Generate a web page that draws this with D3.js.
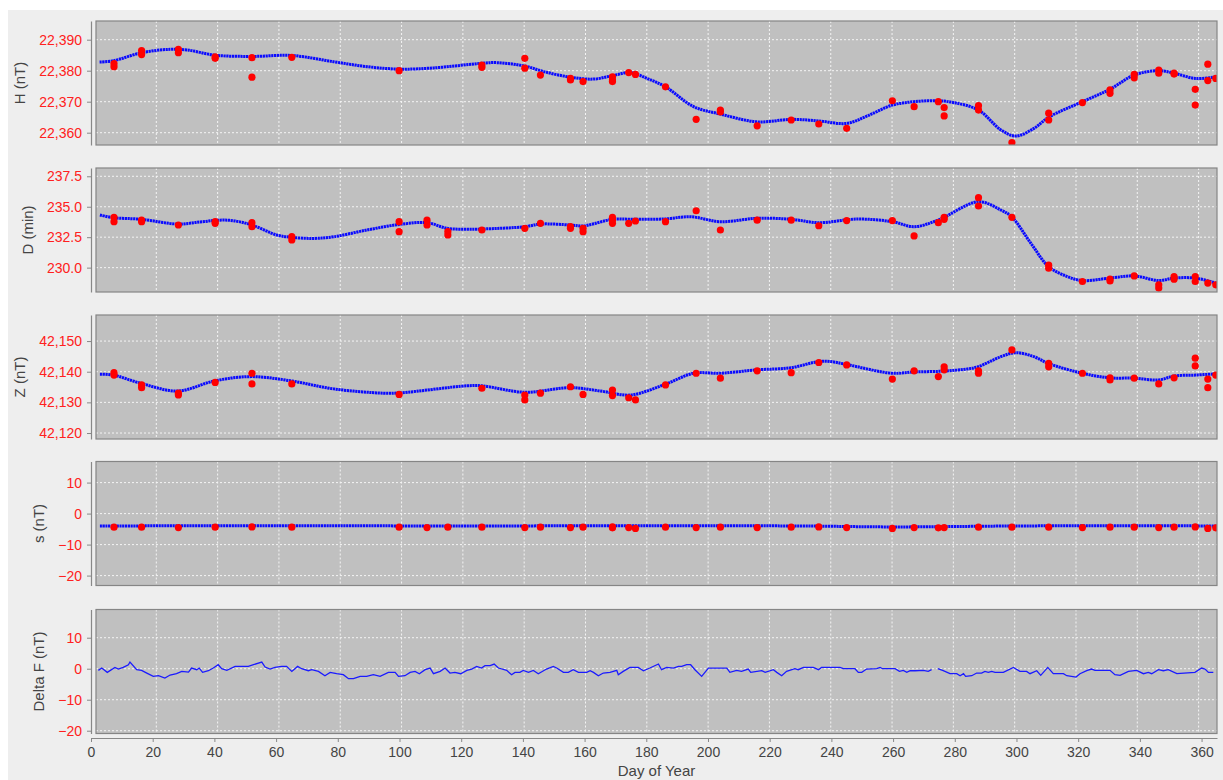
<!DOCTYPE html>
<html><head><meta charset="utf-8">
<script src="https://cdn.jsdelivr.net/npm/d3@7"></script>
<style>body{margin:0;background:#fff}svg{display:block}text{font-family:"Liberation Sans",Arial,sans-serif}</style>
</head><body><svg id="c" width="1223" height="780"></svg>
<script>
// ---------- DATA ----------
const dayTicks = [0,20,40,60,80,100,120,140,160,180,200,220,240,260,280,300,320,340,360];
const hTicks = [22360,22370,22380,22390];
const dTicks = [230.0,232.5,235.0,237.5];
const zTicks = [42120,42130,42140,42150];
const sTicks = [-20,-10,0,10];
const dfTicks = [-20,-10,0,10];

// H observations
const hObsDays = [6.2,6.2,15.2,15.2,27.2,27.2,39.2,39.2,51.2,51.2,64.2,99.2,126.2,126.2,140.2,140.2,145.3,155.1,155.1,159.2,168.8,168.8,168.8,174.1,176.3,186.1,196.1,204,204,216,227.1,236.1,245.2,260.1,267.2,275.1,277,277,288.2,288.2,299.1,311.1,311.1,322.1,331.1,331.1,339,339,347,347,352,352,358.9,358.9,363,363,365.6];
const hObsVals = [22382.3,22381.3,22386.5,22385.2,22386.9,22385.8,22384.5,22384.0,22384.2,22377.9,22384.3,22380.0,22381.8,22381.1,22384.0,22380.8,22378.6,22377.5,22377.0,22376.5,22378.0,22377.0,22376.5,22379.4,22378.8,22374.8,22364.3,22367.3,22366.7,22362.2,22364.1,22362.8,22361.4,22370.3,22368.4,22370.0,22368.1,22365.4,22368.7,22367.3,22356.8,22366.3,22364.1,22369.7,22373.8,22372.7,22378.8,22377.7,22380.2,22379.2,22379.2,22378.9,22374.0,22368.9,22382.1,22376.8,22377.5];
// H fitted curve (read at knots)
const hFitDays = [1.5,6,15.2,24.5,30,39.2,51.2,64.2,77.8,88.7,99.4,110.5,126.2,131.1,140.2,146.4,155.1,162.7,168.8,174.7,180.1,186.1,195.3,204,216,227.1,236.1,245.2,251.9,260.1,267.2,275.1,280.2,288.2,295.5,300.4,306.3,311.1,322.1,331.1,339,347,352,358.9,365.6];
const hFitVals = [22382.8,22383.2,22385.8,22386.9,22386.7,22385.0,22384.6,22384.9,22382.9,22381.3,22380.5,22380.9,22382.4,22382.6,22381.5,22379.7,22377.9,22377.3,22378.4,22379.4,22377.5,22374.8,22368.4,22366.0,22363.5,22364.3,22363.8,22363.0,22365.4,22368.9,22370.0,22370.3,22369.7,22367.3,22360.9,22358.9,22361.4,22365.0,22370.0,22374.0,22378.6,22380.0,22379.2,22377.5,22378.0];

// D observations
const dObsDays = [6.2,6.2,15.2,15.2,27.2,39.2,39.2,51.2,51.2,64.2,64.2,99.2,99.2,108.3,108.3,115.1,115.1,126.2,140.2,145.3,155.1,155.1,159.2,159.2,168.8,168.8,168.8,174.1,176.3,186.1,196.1,204,216,227.1,236.1,245.2,260.1,267.2,275.1,277,277,288.2,288.2,299.1,311.1,311.1,322.1,331.1,331.1,339,347,347,352,352,358.9,358.9,363,365.6];
const dObsVals = [234.13,233.77,233.9,233.77,233.5,233.77,233.64,233.69,233.36,232.54,232.27,233.77,232.95,233.9,233.5,232.95,232.68,233.09,233.23,233.64,233.36,233.23,233.23,232.95,233.64,234.13,233.9,233.64,233.83,233.77,234.67,233.09,233.9,233.9,233.44,233.86,233.86,232.6,233.69,233.97,234.13,235.74,235.06,234.13,230.2,229.95,228.86,229.05,228.91,229.32,228.59,228.32,229.27,229.05,229.27,228.86,228.73,228.59];
const dFitDays = [1.6,6,15,27,34.3,40.8,45.2,51.2,59.3,64,71.3,78,88.7,99.4,108.3,114.8,121.3,126.2,140.2,145.3,155.1,159.2,162.7,168.8,175.7,186.1,194.3,204,216,227.1,236.1,248.7,260.1,267.2,275,288.2,295.5,299,305.3,311.1,317.2,322,331,339,347,352,359,365.6];
const dFitVals = [234.32,234.1,233.97,233.58,233.75,233.9,233.85,233.5,232.68,232.49,232.4,232.54,233.09,233.55,233.69,233.23,233.15,233.17,233.36,233.58,233.5,233.42,233.6,233.97,233.97,234.0,234.18,233.77,234.05,233.97,233.69,233.99,233.77,233.36,233.9,235.41,234.73,234.18,232.0,230.08,229.27,228.94,229.14,229.32,228.94,229.14,229.14,228.73];

// Z observations
const zObsDays = [6.2,6.2,15.2,15.2,27.2,27.2,39.2,51.2,51.2,64.2,99.2,126.2,140.2,140.2,145.3,155.1,159.2,168.8,168.8,174.1,176.3,186.1,196.1,204,216,227.1,236.1,245.2,260.1,267.2,275.1,277,277,288.2,288.2,299.1,311.1,311.1,322.1,331.1,331.1,339,347,352,358.9,358.9,363,363,365.6];
const zObsVals = [42139.7,42138.9,42135.7,42134.8,42133.0,42132.4,42136.5,42139.5,42136.0,42136.0,42132.6,42134.6,42132.4,42130.8,42133.0,42135.1,42132.6,42134.0,42132.2,42131.5,42130.8,42135.7,42139.5,42137.9,42140.3,42139.7,42143.0,42142.2,42137.6,42140.3,42138.4,42141.6,42140.6,42140.3,42139.5,42147.1,42142.7,42141.6,42139.5,42138.0,42137.3,42137.9,42136.0,42138.0,42144.4,42141.9,42137.6,42134.8,42138.9];
const zFitDays = [1.6,6,15,27,39,51,64,77.8,94.1,99.6,121.3,126.2,140.2,155,164.9,174.7,186,195.3,204,216,227,236,240,245,260,267,277,284.6,288,295.5,300.4,306.3,311,322,331,339,347,352,359,365.6];
const zFitVals = [42139.2,42138.9,42136.2,42133.7,42137.0,42138.4,42137.0,42134.4,42133.0,42133.1,42135.4,42135.4,42133.3,42134.8,42133.7,42132.4,42135.9,42139.5,42139.5,42140.6,42141.3,42143.3,42143.3,42142.4,42139.5,42139.9,42140.2,42140.9,42141.6,42144.9,42146.2,42144.9,42142.7,42139.5,42138.0,42137.9,42137.3,42138.6,42138.9,42139.3];

// s observations
const sObsDays = [6.2,15.2,27.2,39.2,51.2,64.2,99.2,108.3,115.1,126.2,140.2,145.3,155.1,159.2,168.8,168.8,174.1,176.3,186.1,196.1,204,216,227.1,236.1,245.2,260.1,267.2,275.1,277,288.2,299.1,311.1,322.1,331.1,339,347,352,358.9,363,365.6];
const sObsVals = [-4.4,-4.4,-4.5,-4.4,-4.3,-4.4,-4.4,-4.5,-4.4,-4.4,-4.5,-4.4,-4.5,-4.4,-4.3,-4.6,-4.5,-4.8,-4.4,-4.5,-4.4,-4.5,-4.4,-4.3,-4.5,-4.8,-4.5,-4.6,-4.5,-4.4,-4.4,-4.4,-4.5,-4.4,-4.4,-4.5,-4.4,-4.3,-4.8,-4.6];
const sFitDays = [1.6,60,120,180,230,260,300,340,365.6];
const sFitVals = [-4.0,-3.9,-4.0,-3.9,-4.0,-4.3,-4.0,-3.9,-4.0];

// Delta F (daily, with a gap)
const dfDays = [1.1,2.2,4.0,6.5,7.6,9.2,10.9,11.4,13.6,15.2,16.9,19.0,20.7,22.8,24.5,26.6,28.3,30.5,31.5,33.2,34.0,35.1,37.0,38.6,40.2,41.3,43.0,45.7,50.0,51.7,54.4,55.5,57.1,58.7,60.9,62.5,64.2,66.1,67.4,69.6,70.7,72.9,75.0,76.7,78.8,81.0,82.7,84.3,86.5,88.6,90.8,93.0,95.7,97.9,99.0,101.1,102.8,104.4,105.8,107.7,109.3,110.4,112.6,114.2,115.8,117.4,119.3,121.3,122.9,124.5,126.1,127.2,128.9,130.2,131.6,134.3,135.9,137.0,138.6,139.7,141.4,143.0,144.6,147.3,149.5,150.6,152.8,154.4,156.0,157.7,160.4,161.5,162.6,164.2,165.8,168.0,170.2,170.7,172.3,174.5,177.2,178.9,181.0,183.8,184.8,186.5,188.7,190.3,191.4,193.0,194.3,195.7,197.9,200.1,206.1,207.1,209.3,210.9,213.1,213.9,217.5,218.6,221.3,222.4,224.0,225.6,228.3,229.4,231.1,234.3,236.0,237.0,243.0,244.1,247.9,249.0,250.1,251.7,255.0,256.1,256.9,261.0,262.4,263.7,264.8,265.9,267.5,270.2,271.8,272.9,273.9,274.9,276.7,278.9,281.1,282.2,283.3,284.0,286.0,287.6,289.2,290.3,291.4,292.5,293.6,296.3,299.6,301.7,303.9,305.0,307.2,308.5,310.8,312.6,315.9,317.0,320.0,321.3,323.5,325.1,326.2,331.1,332.7,334.4,337.1,339.8,342.0,343.6,344.7,346.9,348.5,350.1,352.9,358.8,361.0,362.1,363.2,364.8];
const dfVals = [-0.54,0.22,-1.18,0.43,-0.11,0.43,1.29,2.15,-0.32,-0.54,-1.4,-2.47,-2.26,-3.01,-2.04,-1.61,-0.86,-1.08,0.22,-0.32,0.22,-1.18,-0.65,0.22,1.29,0,-0.54,0.75,0.75,1.29,2.15,0.54,-0.11,0.43,0.75,0.75,-0.86,0.75,0,-0.65,-0.32,-0.86,-2.26,-1.18,-1.61,-1.94,-3.23,-3.23,-2.47,-2.47,-1.94,-2.47,-1.18,-1.18,-2.47,-2.26,-1.18,-0.86,-1.61,-0.32,0.22,-1.61,-0.86,0.22,-1.4,-1.18,-1.61,-0.54,-0.11,0.75,0.22,0.97,0.97,1.51,0.22,-0.54,-1.94,-1.18,-1.18,-0.54,-1.18,-0.54,-1.61,-0.11,0.75,0.22,-1.18,-1.18,-0.32,-1.18,-1.18,-0.65,-1.18,-2.26,-1.4,-1.18,-0.54,-1.94,-0.86,0.43,0.43,-0.65,0.22,1.51,-0.32,0.43,0.22,0.75,0.75,1.29,1.29,-0.32,-2.47,0.22,0.22,-1.18,-0.54,-0.86,-0.11,-1.18,-0.65,-1.18,-0.32,-1.18,-2.26,-0.86,0,-0.32,0.43,0.43,-0.32,0.43,0.43,0,0,-1.18,-1.18,-0.11,0,0.43,0,0,-0.86,-0.54,-1.18,-0.65,-0.65,-0.54,-0.86,-0.32,null,0,-0.65,-1.61,-1.61,-2.26,-1.61,-2.47,-2.26,-1.4,-1.4,-0.86,-1.18,-0.86,-1.18,-1.18,0.43,-0.86,-0.86,-1.61,-0.65,-2.15,0.43,-1.61,-1.61,-2.26,-2.69,-1.61,-0.65,-0.11,-0.54,-0.54,-1.94,-2.15,-0.86,-0.54,-1.61,-1.18,-1.61,-0.32,-0.65,-0.32,-1.61,-1.18,0.22,-0.11,-1.18,-1.18];

// ---------- LAYOUT ----------
const W = 1223, H = 780;
const plotL = 96, plotR = 1217, plotH = 124;
const axisX = 91;
const svg = d3.select('#c');
svg.append('rect').attr('x',8).attr('y',10).attr('width',W-8).attr('height',H-10).attr('fill','#eeeeee');

const xGrid = d3.scaleLinear().domain([0,366]).range([95,1217]);
const xAxisScale = d3.scaleLinear().domain([0,365]).range([axisX,1217]);

const panels = [
  {label:'H (nT)', top:21, domain:[22356.03,22396.03], ticks:hTicks, fmt:d3.format(','), obsD:hObsDays, obsV:hObsVals, fitD:hFitDays, fitV:hFitVals},
  {label:'D (min)', top:168, domain:[228.0,238.18], ticks:dTicks, fmt:d3.format('.1f'), obsD:dObsDays, obsV:dObsVals, fitD:dFitDays, fitV:dFitVals},
  {label:'Z (nT)', top:315, domain:[42118.05,42158.5], ticks:zTicks, fmt:d3.format(','), obsD:zObsDays, obsV:zObsVals, fitD:zFitDays, fitV:zFitVals},
  {label:'s (nT)', top:461.5, domain:[-23.2,16.8], ticks:sTicks, fmt:d3.format('d'), obsD:sObsDays, obsV:sObsVals, fitD:sFitDays, fitV:sFitVals},
  {label:'Delta F (nT)', top:609.5, domain:[-20.9,19.1], ticks:dfTicks, fmt:d3.format('d'), lineD:dfDays, lineV:dfVals}
];

panels.forEach((p,i)=>{
  const y = d3.scaleLinear().domain(p.domain).range([p.top+plotH, p.top]);
  const g = svg.append('g');
  g.append('rect').attr('x',plotL).attr('y',p.top).attr('width',plotR-plotL).attr('height',plotH).attr('fill','#c0c0c0');
  const clipId = 'clip'+i;
  svg.append('clipPath').attr('id',clipId).append('rect').attr('x',plotL).attr('y',p.top).attr('width',plotR-plotL).attr('height',plotH);
  // grid
  g.selectAll('.vg').data(dayTicks.filter(d=>d>0)).join('line')
    .attr('x1',d=>xGrid(d)).attr('x2',d=>xGrid(d)).attr('y1',p.top).attr('y2',p.top+plotH)
    .attr('stroke','#f4f4f4').attr('stroke-width',1).attr('stroke-dasharray','2,2');
  g.selectAll('.hg').data(p.ticks).join('line')
    .attr('x1',plotL).attr('x2',plotR).attr('y1',d=>y(d)).attr('y2',d=>y(d))
    .attr('stroke','#f4f4f4').attr('stroke-width',1).attr('stroke-dasharray','2,2');
  const inner = g.append('g').attr('clip-path',`url(#${clipId})`);
  if (p.fitD) {
    const fit = p.fitD.map((d,k)=>[d,p.fitV[k]]);
    const obs = p.obsD.map((d,k)=>[d,p.obsV[k]]);
    inner.append('path').datum(fit)
      .attr('d', d3.line().x(d=>xGrid(d[0])).y(d=>y(d[1])).curve(d3.curveCatmullRom.alpha(0.5)))
      .attr('fill','none').attr('stroke','#0a0aff').attr('stroke-width',3)
      .attr('stroke-dasharray','2.2,0.6');
    inner.selectAll('circle').data(obs).join('circle')
      .attr('cx',d=>xGrid(d[0])).attr('cy',d=>y(d[1])).attr('r',3.6).attr('fill','#ff0000');
  } else {
    const pts = p.lineD.map((d,k)=>[d,p.lineV[k]]);
    inner.append('path').datum(pts)
      .attr('d', d3.line().defined(d=>d[1]!==null).x(d=>xGrid(d[0])).y(d=>y(d[1])))
      .attr('fill','none').attr('stroke','#1a1aff').attr('stroke-width',1.3);
  }
  g.append('rect').attr('x',plotL).attr('y',p.top).attr('width',plotR-plotL).attr('height',plotH)
    .attr('fill','none').attr('stroke','#858585').attr('stroke-width',1.2);
  // y axis
  const ax = g.append('g').attr('transform',`translate(${axisX},0)`)
    .call(d3.axisLeft(y).tickValues(p.ticks).tickFormat(p.fmt).tickSize(4).tickSizeOuter(0).tickPadding(5));
  ax.select('.domain').attr('stroke','#888').attr('stroke-width',1.2);
  ax.selectAll('.tick line').attr('stroke','#888');
  ax.selectAll('.tick text').attr('fill','#ff2020').style('font-size','14px').style('font-family','"Liberation Sans",Arial,sans-serif');
  let minX = 0;
  ax.selectAll('.tick text').each(function(){ const b=this.getBBox(); minX=Math.min(minX,b.x); });
  const lx = axisX + minX - 14;
  g.append('text').attr('transform',`translate(${lx},${p.top+plotH/2}) rotate(-90)`)
    .attr('text-anchor','middle').attr('dy','0')
    .attr('fill','#444').style('font-size','15px').text(p.label);
});

// x axis
const xa = svg.append('g').attr('transform','translate(0,738)')
  .call(d3.axisBottom(xAxisScale).tickValues(dayTicks).tickSize(4).tickSizeOuter(0).tickPadding(5));
xa.select('.domain').attr('stroke','#888').attr('stroke-width',1.2);
xa.selectAll('.tick line').attr('stroke','#888');
xa.selectAll('.tick text').attr('fill','#444').style('font-size','14px').style('font-family','"Liberation Sans",Arial,sans-serif');
svg.append('text').attr('x',(plotL+plotR)/2).attr('y',776).attr('text-anchor','middle')
  .attr('fill','#444').style('font-size','15px').text('Day of Year');
</script></body></html>
